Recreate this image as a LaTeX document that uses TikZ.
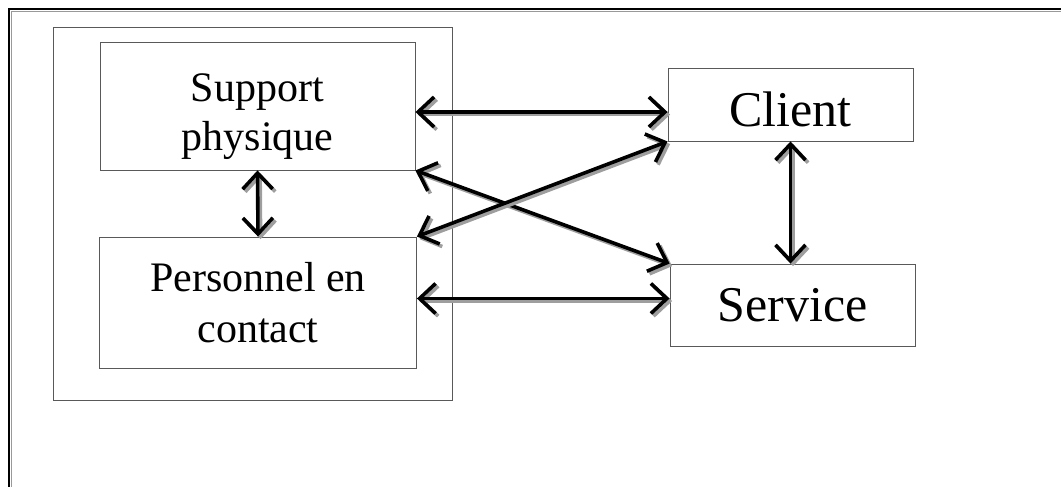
\documentclass[tikz,border=0pt]{standalone}
\usepackage{fontspec}
\setmainfont{Liberation Serif}
\usetikzlibrary{arrows.meta}

\begin{document}
\begin{tikzpicture}[x=1pt, y=-1pt,
                    >={Straight Barb[length=16pt,width=30pt]},
                    box/.style={draw=black!65, line width=0.9pt, align=center, inner sep=0pt},
                    link/.style={<->, line width=3.6pt, line cap=round, line join=round},
                    linkshadow/.style={link, draw=black!38, transform canvas={shift={(2.6,2.6)}}}]
  \useasboundingbox (0,0) rectangle (1061,487);
  % frame of the page
  \draw[black!40, line width=1pt] (11.5,487) -- (11.5,11.5) -- (1061,11.5);
  \draw[line width=1.6pt] (9,487) -- (9,9) -- (1061,9);
  % the two boxes on the left sit in a larger one
  \node[box, minimum width=399, minimum height=373] (grp) at (252.5,213.5) {};
  \node[box, minimum width=315, minimum height=128, font=\fontsize{42}{49}\selectfont] (sup) at (257.5,106) {\rule{0pt}{50pt}Support\\physique};
  \node[box, minimum width=317, minimum height=131, font=\fontsize{42}{51}\selectfont] (pers) at (258,302.5) {Personnel en\\contact};
  \node[box, minimum width=245, minimum height=73, text height=44pt, font=\fontsize{50}{58}\selectfont] (client) at (790.5,104.5) {Client};
  \node[box, minimum width=245, minimum height=82, font=\fontsize{50}{58}\selectfont] (service) at (792.5,305) {Service};

  % ends of the arrows
  \coordinate (s1) at ([yshift=-6pt]sup.east);
  \coordinate (c1) at (s1 -| client.west);
  \coordinate (p1) at ([yshift=4pt]pers.east);
  \coordinate (v1) at (p1 -| service.west);
  \coordinate (c2) at (client.south);
  \coordinate (v2) at (c2 |- service.north);

  % shadow first, then the arrow itself
  \foreach \a/\b in {s1/c1, sup.south/pers.north, c2/v2,
                     sup.south east/service.north west,
                     pers.north east/client.south west, p1/v1} {
    \draw[linkshadow] (\a) -- (\b);
    \draw[link] (\a) -- (\b);
  }
\end{tikzpicture}
\end{document}
